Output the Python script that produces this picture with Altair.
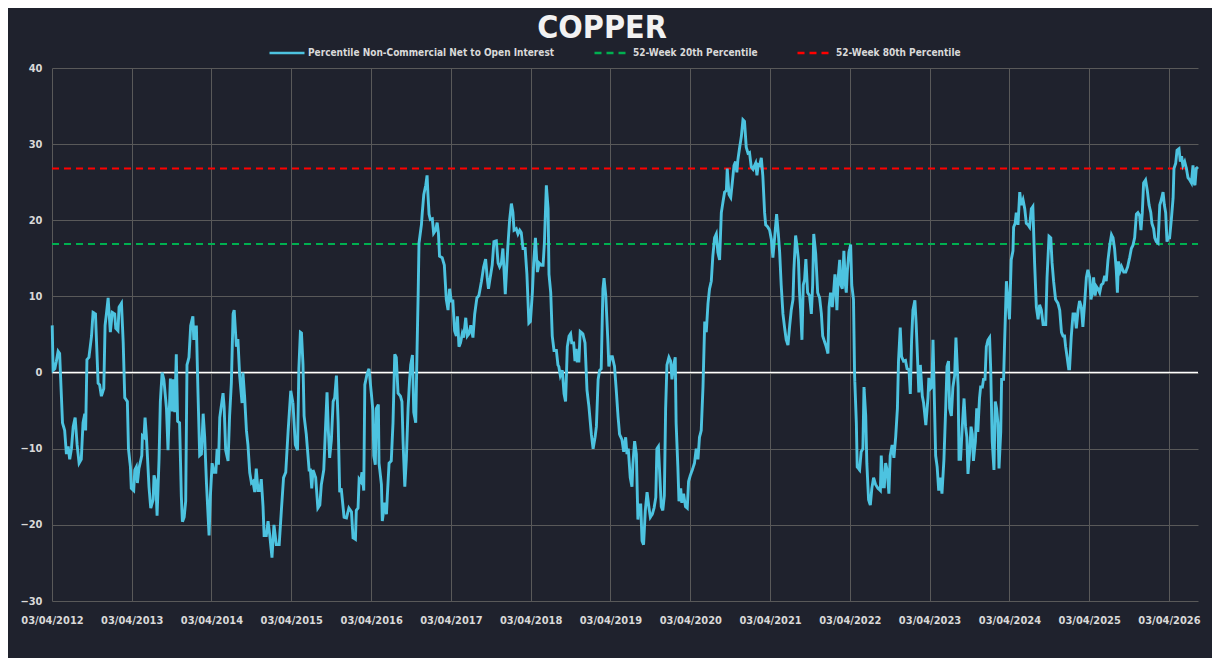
import altair as alt
import pandas as pd
import numpy as np

TITLE = "COPPER"
SERIES = [
    "Percentile Non-Commercial Net to Open Interest",
    "52-Week 20th Percentile",
    "52-Week 80th Percentile",
]
COLORS = ["#4dc3e0", "#00b050", "#ff0000"]
DASHES = [[1, 0], [7, 5], [7, 5]]
START = "2012-04-03"
TICK_YEARS = list(range(2012, 2027))
Y_TICKS = [-30, -20, -10, 0, 10, 20, 30, 40]
P20 = 16.9
P80 = 26.8

# weeks since 03/04/2012
WEEK = [
    0.2, 0.7, 1.8, 2.9, 4.0, 5.0, 6.8, 8.3, 9.4, 10.5, 11.6, 12.7, 13.8, 15.1, 16.4, 17.7, 19.2, 20.3, 21.4, 22.0,
    22.9, 24.2, 25.8, 26.8, 28.4, 30.1, 31.2, 32.3, 33.8, 34.7, 35.6, 36.7, 38.2, 39.5, 41.0, 41.7, 43.2, 43.8, 45.4, 46.5,
    47.6, 49.3, 50.0, 51.3, 51.9, 53.4, 54.1, 55.2, 55.8, 56.9, 58.7, 59.1, 60.2, 60.8, 61.7, 63.5, 64.6, 66.1, 66.7, 67.8,
    68.7, 70.0, 70.9, 72.0, 73.1, 74.8, 75.9, 77.4, 78.7, 79.4, 80.3, 81.3, 82.2, 83.5, 84.6, 85.3, 86.4, 87.4, 88.3, 89.6,
    90.7, 92.2, 92.7, 93.5, 94.4, 95.5, 96.6, 97.7, 98.8, 99.9, 101.0, 102.7, 103.6, 104.7, 106.0, 107.1, 108.0, 108.8, 109.7, 110.8,
    111.9, 112.5, 113.6, 115.1, 116.2, 117.3, 118.4, 119.1,
    120.6, 121.6, 122.7, 124.3, 124.9, 126.0, 127.1, 128.2, 129.3, 130.4, 131.5, 132.6, 133.6, 134.7, 135.8, 136.9, 138.0, 138.7,
    140.2, 141.3, 142.4, 143.9, 145.2, 146.7, 148.5, 150.0, 151.5, 152.8, 154.4, 156.1, 157.6, 159.1, 160.5, 161.5, 162.4, 163.1,
    164.2, 164.8, 166.3, 168.1, 169.0, 169.8, 170.7, 172.4, 173.8, 175.1, 176.2, 177.7, 179.0, 179.9, 180.7, 181.6, 182.7, 183.8,
    184.9, 186.0, 187.1, 188.1, 189.2, 191.0, 192.5, 194.2, 195.8, 196.9, 198.4, 199.0, 200.1, 200.8, 201.9, 202.7, 203.8, 204.5,
    206.0, 207.3, 208.9, 209.9, 210.4, 211.5, 212.1, 213.4, 213.9, 215.4, 216.0, 217.6, 218.7, 219.3, 220.4, 221.9, 223.0, 224.1,
    225.2, 226.3, 227.8, 228.9, 229.6, 230.7, 231.7, 232.8, 233.9, 234.6, 235.7, 236.5, 237.8, 238.7, 239.4, 240.0, 241.6, 242.2,
    243.1, 244.4, 245.3, 245.9, 246.6, 247.4, 248.7, 249.6, 250.9, 251.8, 252.7, 253.5,
    255.2, 256.6, 257.9, 259.0, 260.0, 261.1, 262.2, 263.3, 264.4, 265.1, 266.1, 267.2, 268.3, 269.2, 270.5, 271.6, 272.7, 273.8,
    275.3, 276.4, 277.9, 279.2, 280.8, 282.3, 283.6, 284.5, 285.5, 286.6, 287.9, 289.0, 290.6, 291.7, 292.7, 293.8, 294.9, 296.4,
    298.2, 299.3, 300.4, 301.5, 302.1, 303.6, 304.7, 305.8, 306.9, 308.0, 309.5, 310.6, 311.9, 312.8, 314.1, 315.0, 316.1, 317.4,
    318.5, 320.0, 321.1, 322.0, 323.3, 324.4, 325.0, 326.1, 327.2, 328.3, 329.8, 330.9, 331.5, 332.4, 333.7, 334.8, 335.9, 337.0,
    338.1, 339.2, 339.8, 341.1, 342.0, 342.9, 343.5, 344.6, 345.5, 347.2, 348.5, 349.9, 351.2, 352.7, 353.8, 355.1, 356.0, 357.1,
    358.1, 359.2, 360.3, 361.0, 362.1, 363.6, 364.2, 365.3, 366.4, 367.9, 369.0, 370.1, 371.2, 372.7, 373.8, 375.1, 376.0, 376.9,
    378.2, 379.3, 379.9, 381.0, 382.1, 383.2, 383.9, 385.0, 385.8, 386.9, 388.0, 389.1, 390.4, 391.3, 392.6, 393.7, 394.8, 395.6,
    396.5,
    398.4, 399.5, 400.4, 401.3, 402.1, 403.4, 404.5, 405.4, 406.5, 407.6, 408.2, 409.3, 410.0, 411.1, 411.9, 413.0, 414.3, 415.4,
    416.3, 417.4, 418.7, 420.2, 421.3, 422.4, 423.5, 424.6, 425.7, 426.8, 427.9, 429.0, 430.0, 431.1, 432.2, 433.3, 434.4, 435.5,
    436.6, 437.7, 438.8, 439.9, 441.0, 441.6, 442.7, 443.8, 444.9, 446.0, 447.0, 447.9, 448.6, 449.7, 450.8, 451.8, 452.9, 454.0,
    455.1, 456.2, 457.3, 458.4, 459.0, 460.1, 461.0, 461.9, 462.7, 463.8, 464.9, 466.0, 466.7, 468.2, 469.3, 470.4, 471.5, 472.6,
    473.9, 475.0, 475.8, 476.9, 478.0, 479.1, 480.2, 481.3, 482.4, 483.5, 484.5, 485.2, 486.3, 487.2, 488.2, 488.9, 489.6, 490.4,
    491.3, 492.2, 493.0, 494.1, 495.4, 496.5, 497.4, 498.1, 499.4, 500.7, 502.0, 503.1, 504.0, 505.2, 506.3, 507.4, 508.1, 509.2,
    510.3, 511.1, 512.0, 512.7, 513.3, 514.2, 515.1, 515.9, 516.8, 517.9, 518.8, 519.4, 520.1, 521.2, 522.3,
    523.0, 524.2, 524.9, 526.0, 526.6, 528.1, 529.2, 530.3, 531.0, 532.1, 532.9, 534.0, 535.1, 536.2, 537.3, 538.6, 540.1, 541.7,
    542.3, 543.4, 544.3, 545.1, 546.2, 547.3, 548.2, 549.5, 550.6, 551.7, 552.8, 553.6, 554.7, 555.6, 556.9, 558.2, 559.1, 560.4,
    561.3, 562.1, 563.0, 564.3, 565.2, 566.3, 566.9, 567.8, 569.1, 570.0, 571.5, 572.8, 573.5, 574.6, 575.4, 576.1, 577.0, 577.8,
    578.9, 579.8, 580.9, 582.0, 583.3, 584.4, 585.3, 586.3, 587.0, 588.1, 589.2, 590.3, 591.1, 592.5, 593.1, 594.2, 595.3, 596.4,
    597.5, 598.3, 599.0, 600.1, 601.0, 601.8, 602.5, 603.8, 604.7, 605.5, 606.6, 607.3, 608.4, 609.2, 610.1, 611.0, 612.1, 613.2,
    613.8, 614.9, 616.0, 616.9, 617.7, 618.6, 619.3, 620.4, 621.0, 622.3, 623.0, 624.1, 625.2, 626.2, 627.3, 628.4, 628.9, 629.9,
    630.6, 631.7, 632.8,
    633.9, 635.0, 636.1, 637.2, 638.3, 639.3, 640.4, 641.5, 642.6, 643.7, 644.8, 645.9, 647.0, 648.1, 649.8, 650.7, 652.0, 653.1,
    654.0, 655.0, 656.3, 657.9, 659.0, 660.1, 661.1, 662.2, 662.9, 663.8, 664.8, 665.5, 666.6, 667.7, 668.8, 669.9, 671.0, 672.0,
    673.1, 674.2, 675.3, 676.4, 677.5, 678.6, 679.5, 680.3, 681.2, 682.1, 683.0, 684.0, 685.1, 686.2, 687.3, 688.4, 689.5, 690.6,
    691.7, 692.8, 693.8, 694.9, 696.0, 696.7, 697.5, 698.6, 699.5, 700.8, 702.1, 703.4, 704.7, 705.8, 706.9, 708.0, 709.1, 710.2,
    711.3, 712.2, 713.0, 713.9, 715.2, 716.3, 717.4, 718.5, 719.3, 720.4, 721.1, 722.2, 723.3, 724.4, 725.5, 726.5, 727.4, 728.3,
    729.2, 730.0, 730.9, 732.0, 733.1, 733.7, 734.8, 735.7, 737.0, 737.9, 738.7, 739.6, 740.7, 741.8, 742.9, 744.0, 745.1, 746.2,
    746.8, 747.5, 748.3, 749.4,
]

VALUE = [
    6.2, 0.3, 0.5, 1.5, 2.8, 2.5, -6.6, -7.6, -10.7, -9.7, -11.4, -10.0, -7.1, -5.9, -9.5, -11.9, -11.4, -6.6, -5.4, -7.6,
    1.7, 2.0, 4.8, 7.9, 7.7, -1.4, -1.6, -3.1, -2.1, 6.2, 7.7, 9.8, 5.3, 7.9, 7.7, 5.8, 5.5, 8.6, 9.1, 3.9,
    -3.3, -3.8, -10.0, -12.4, -15.2, -15.5, -12.8, -12.4, -14.5, -12.6, -10.9, -8.3, -8.5, -5.9, -8.3, -15.0, -17.8, -16.7, -13.5, -14.3,
    -18.8, -11.4, -3.8, 0.0, -0.9, -4.7, -10.2, -0.8, -5.1, -0.9, -5.2, 2.4, -6.4, -6.6, -16.2, -19.6, -19.0, -16.9, 1.0, 2.0,
    6.2, 7.4, 4.3, 6.0, 6.0, -2.3, -10.9, -10.7, -5.4, -8.5, -14.5, -21.4, -16.2, -11.9, -13.1, -13.1, -10.0, -12.1, -5.9, -4.2,
    -2.7, -4.5, -10.2, -11.6, -5.7, -1.4, 7.7, 8.2,
    3.4, 4.4, -0.4, -4.0, 0.0, -3.3, -7.6, -9.5, -13.1, -14.5, -14.3, -15.7, -12.6, -15.5, -15.5, -14.0, -17.6, -21.4,
    -21.4, -19.5, -21.4, -24.3, -20.0, -22.6, -22.6, -18.1, -13.8, -13.1, -7.6, -2.4, -4.0, -9.5, -10.2, 0.5, 5.3, 5.2,
    1.0, -5.7, -8.1, -12.8, -12.8, -15.2, -12.8, -13.8, -17.8, -17.4, -14.7, -12.8, -6.6, -2.6, -7.6, -11.2, -8.8, -3.8,
    -3.3, -0.4, -6.6, -15.7, -15.2, -19.0, -19.1, -17.8, -18.3, -21.7, -21.9, -18.1, -17.8, -14.0, -14.3, -13.1, -15.5, -1.6,
    -0.2, 0.5, -2.8, -5.0, -10.9, -12.1, -4.7, -4.2, -11.9, -14.7, -19.5, -17.1, -18.6, -16.2, -11.9, -11.6, -6.6, 2.4,
    2.0, -2.7, -3.1, -3.8, -9.0, -15.0, -11.4, -4.7, -0.9, 1.0, 2.3, -5.2, -6.6, 2.9, 10.1, 17.0, 19.4, 21.0,
    23.4, 24.6, 25.9, 23.4, 20.8, 20.1, 20.2, 18.3, 18.7, 19.7, 18.3, 15.3,
    15.1, 14.1, 9.6, 8.2, 11.0, 9.4, 9.4, 5.5, 4.8, 7.4, 3.4, 3.9, 5.1, 4.6, 7.2, 4.8, 5.1, 6.2,
    4.6, 7.7, 9.8, 10.1, 12.0, 13.9, 14.9, 12.5, 11.0, 12.5, 14.1, 17.2, 17.3, 14.4, 13.9, 14.4, 16.3, 10.3,
    16.7, 20.1, 22.2, 21.0, 18.7, 18.9, 18.2, 18.7, 18.4, 16.3, 16.3, 12.9, 6.5, 6.7, 10.5, 14.4, 17.7, 13.2,
    14.4, 14.1, 14.1, 17.0, 24.6, 21.5, 12.9, 10.5, 4.8, 2.9, 2.9, 1.0, 0.8, -0.4, 0.3, -2.8, -3.8, 3.4,
    4.8, 5.1, 3.9, 3.9, 1.5, 3.1, 1.5, 1.5, 5.4, 5.1, 3.9, -2.3, -4.5, -8.1, -10.0, -8.5, -7.1, -0.9,
    0.3, 0.5, 11.0, 12.4, 10.1, 3.9, 0.8, 2.1, 2.1, 0.8, -2.3, -5.7, -8.1, -8.8, -10.4, -8.5, -10.7, -10.0,
    -13.8, -15.0, -12.1, -9.0, -10.7, -19.3, -17.4, -17.4, -22.1, -22.6, -18.1, -15.7, -17.8, -19.0, -18.6, -17.8, -16.4, -10.0,
    -9.7,
    -17.6, -18.1, -16.2, -4.7, 1.0, 2.0, 1.5, -0.9, 1.0, 2.0, -6.6, -12.4, -16.9, -15.2, -17.1, -15.9, -17.6, -17.8,
    -14.3, -13.5, -12.8, -11.9, -10.0, -11.4, -8.5, -7.6, -1.9, 6.7, 5.3, 9.1, 11.0, 12.0, 15.3, 17.7, 18.2, 15.8,
    14.8, 21.0, 22.5, 23.7, 23.9, 26.8, 23.4, 23.0, 24.9, 27.2, 27.7, 26.3, 28.0, 29.6, 31.1, 33.2, 33.0, 29.6,
    28.8, 28.9, 27.0, 26.7, 27.0, 27.5, 25.9, 27.3, 27.2, 28.2, 25.8, 21.0, 19.4, 19.1, 18.7, 17.5, 15.1, 17.7,
    20.8, 18.2, 15.8, 11.5, 7.7, 5.8, 4.3, 3.6, 6.2, 8.2, 9.6, 13.4, 18.0, 16.7, 14.8, 10.5, 8.2, 4.3,
    11.5, 12.2, 14.9, 10.5, 10.1, 7.7, 11.5, 18.2, 15.6, 10.5, 9.8, 7.7, 4.8, 4.1, 3.4, 2.5, 8.6, 10.5,
    8.6, 10.5, 12.9, 11.0, 8.2, 12.5, 14.8, 11.5, 11.0, 16.0, 11.5, 10.5, 13.4, 15.8, 16.8,
    11.5, 9.6, -0.4, -6.6, -12.4, -12.8, -10.4, -10.0, -1.9, -5.7, -11.9, -16.7, -17.4, -15.2, -13.8, -14.7, -15.2, -15.5,
    -10.9, -15.0, -15.0, -11.9, -12.8, -15.9, -10.9, -9.5, -11.2, -8.5, -4.7, 1.5, 5.9, 2.1, 1.5, 1.6, 0.5, 0.4,
    -2.8, 4.3, 8.2, 9.5, 6.3, 0.5, -2.6, 1.0, -3.1, -4.0, -6.9, -3.3, -0.7, -2.1, -1.9, 4.3, -3.3, -10.9,
    -12.4, -15.5, -13.8, -15.9, -11.4, -4.7, 0.8, 1.5, -4.7, -5.7, -1.9, -0.4, 4.6, -1.9, -11.4, -11.4, -7.1, -3.4,
    -7.1, -8.5, -13.3, -10.4, -7.1, -8.1, -11.6, -9.0, -4.7, -7.8, -3.3, -1.9, -1.9, -0.9, -0.9, 3.4, 4.3, 4.6,
    0.5, -9.0, -12.8, -3.8, -4.7, -6.6, -12.6, -7.8, -0.9, -0.9, 4.3, 12.0, 9.6, 7.0, 14.8, 16.0, 19.1, 19.6,
    21.0, 19.4, 23.7,
    22.0, 22.7, 21.5, 19.6, 19.4, 19.1, 21.5, 21.8, 14.4, 8.6, 7.0, 8.9, 8.2, 6.3, 6.3, 12.5, 17.9, 17.7,
    14.4, 12.0, 9.6, 9.1, 8.2, 5.3, 4.8, 4.8, 3.4, 2.0, 0.5, 0.5, 4.8, 7.7, 7.7, 5.8, 8.2, 9.4,
    8.6, 6.0, 9.1, 12.5, 13.5, 12.5, 9.6, 10.5, 12.5, 10.1, 11.3, 11.0, 10.5, 11.5, 11.7, 12.7, 12.0, 14.8,
    16.7, 18.1, 17.7, 16.3, 13.4, 10.5, 14.6, 13.4, 13.9, 13.2, 13.2, 13.9, 15.1, 16.3, 16.7, 17.7, 20.8, 21.0,
    20.6, 18.7, 21.0, 24.9, 25.3, 23.9, 22.0, 21.0, 19.6, 18.9, 17.7, 17.2, 17.0, 22.0, 22.7, 23.7, 22.0, 21.0,
    17.2, 17.7, 17.7, 20.1, 22.9, 26.8, 27.5, 29.2, 29.4, 27.7, 28.4, 27.2, 27.7, 26.8, 25.6, 25.3, 24.9, 27.2,
    24.9, 24.6, 26.8, 27.0,
]

FONT = "DejaVu Sans Condensed"
TEXT_COLOR = "#d9d9d9"
BG = "#1f222d"
GRID = "#595959"

start = pd.Timestamp(START)
dates = start + pd.to_timedelta(np.round(np.array(WEEK) * 7), unit="D")
end = dates.max()

main = pd.DataFrame({"date": dates, "value": VALUE, "series": SERIES[0]})
thr = pd.DataFrame({
    "date": [start, end, start, end],
    "value": [P20, P20, P80, P80],
    "series": [SERIES[1], SERIES[1], SERIES[2], SERIES[2]],
})

legend = alt.Legend(
    title=None, orient="none", legendX=216, legendY=-34, direction="horizontal", columns=3,
    symbolType="stroke", symbolSize=1225, symbolStrokeWidth=2.5,
    labelFont=FONT, labelFontSize=10, labelFontWeight="bold", labelColor=TEXT_COLOR,
    columnPadding=34, labelOffset=2, labelLimit=400,
)

x = alt.X(
    "date:T",
    scale=alt.Scale(domain=[
        alt.DateTime(year=start.year, month=start.month, date=start.day),
        alt.DateTime(year=end.year, month=end.month, date=end.day),
    ]),
    axis=alt.Axis(
        values=[alt.DateTime(year=yy, month=4, date=3) for yy in TICK_YEARS],
        format="%d/%m/%Y", title=None, labelPadding=13, labelOverlap=False, labelFlush=False,
    ),
)
y = alt.Y(
    "value:Q",
    scale=alt.Scale(domain=[-30, 40], nice=False),
    axis=alt.Axis(values=Y_TICKS, title=None, labelPadding=10),
)
color = alt.Color("series:N", scale=alt.Scale(domain=SERIES, range=COLORS), legend=legend)
dash = alt.StrokeDash("series:N", scale=alt.Scale(domain=SERIES, range=DASHES), legend=legend)

thr_layer = alt.Chart(thr).mark_line(strokeWidth=2).encode(x=x, y=y, color=color, strokeDash=dash)
zero = alt.Chart(pd.DataFrame({"v": [0]})).mark_rule(color="#ffffff", strokeWidth=1.5).encode(y="v:Q")
main_layer = alt.Chart(main).mark_line(strokeWidth=2.9).encode(x=x, y=y, color=color, strokeDash=dash)

chart = alt.layer(thr_layer, zero, main_layer).properties(
    width=1146,
    height=533,
    padding={"left": 44, "top": 60, "right": 14, "bottom": 57},
    autosize=alt.AutoSizeParams(type="none"),
    background=BG,
    title=alt.TitleParams(
        TITLE, font=FONT, fontSize=32, fontWeight="bold", color="#f2f2f2",
        anchor="middle", dx=-23, offset=-11,
    ),
).configure_axis(
    gridColor=GRID, gridWidth=1, domain=False, ticks=False,
    labelFont=FONT, labelFontSize=11, labelFontWeight="bold", labelColor=TEXT_COLOR,
).configure_view(stroke=None)

chart.save("out.html", embed_options={"renderer": "svg", "actions": False})
